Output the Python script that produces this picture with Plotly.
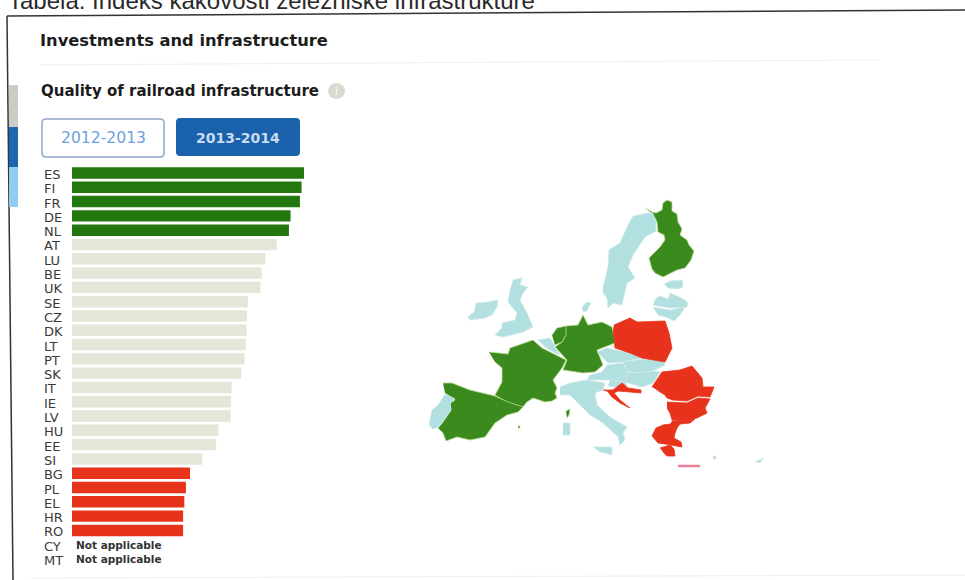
import plotly.graph_objects as go

W, H = 965, 580

# Quality of railroad infrastructure, 2013-2014 score by member state
top_states = ["ES", "FI", "FR", "DE", "NL"]
top_scores = [5.70, 5.64, 5.60, 5.37, 5.33]
mid_states = ["AT", "LU", "BE", "UK", "SE", "CZ", "DK", "LT", "PT", "SK", "IT", "IE", "LV", "HU", "EE", "SI"]
mid_scores = [5.03, 4.75, 4.66, 4.63, 4.32, 4.30, 4.29, 4.27, 4.24, 4.16, 3.92, 3.91, 3.90, 3.60, 3.54, 3.20]
low_states = ["BG", "PL", "EL", "HR", "RO"]
low_scores = [2.90, 2.80, 2.76, 2.73, 2.73]
no_data_states = ["CY", "MT"]
all_states = top_states + mid_states + low_states + no_data_states

GREEN_BAR, GREEN_MAP = "#22780f", "#3a8a1e"
GREY_BAR = "#e4e6d8"
RED = "#e8331c"
PALE = "#b2dfe0"

# Simplified country outlines on the map sheet's own grid (east, south)
finland = [(645,208),(652,212),(656,213),(662,210),(663,203),(667,200),(672,202),(672,211),(677,214),(678,222),(682,229),(680,235),(687,240),(689,245),(694,251),(691,260),(685,268),(677,270),(663,277),(655,273),(652,269),(649,258),(655,252),(660,247),(665,240),(664,235),(658,232),(657,222),(653,214)]
germany = [(566,326),(578,325),(583,315),(588,325),(602,322),(612,327),(614,337),(615,343),(597,350),(602,362),(603,365),(595,372),(583,373),(563,370),(567,360),(555,347),(562,342),(566,335)]
netherlands = [(552,335),(557,328),(566,326),(566,335),(562,342),(555,345)]
france = [(489,352),(508,354),(510,348),(533,340),(542,348),(557,355),(566,360),(562,368),(553,380),(557,388),(555,393),(557,398),(552,401),(545,402),(533,398),(527,402),(522,408),(510,404),(495,395),(502,382),(502,368),(495,362)]
corsica = [(566,411),(570,409),(569,415),(567,418)]
spain = [(443,383),(452,383),(470,390),(495,396),(508,402),(523,407),(518,412),(507,415),(495,423),(490,430),(485,437),(470,440),(457,437),(446,441),(443,433),(438,428),(443,422),(451,410),(450,403),(455,400),(445,393)]
mallorca = [(518,426),(520,426),(520,428),(518,428)]

sweden = [(653,213),(648,213),(633,216),(627,227),(620,243),(609,250),(608,267),(603,287),(603,293),(607,298),(608,308),(613,303),(622,305),(625,290),(627,283),(635,278),(628,267),(633,255),(645,237),(656,231),(656,222)]
denmark = [(582,307),(587,302),(591,303),(587,311),(583,312)]
estonia = [(664,284),(670,281),(682,280),(683,287),(678,289),(668,288)]
latvia = [(656,298),(660,296),(668,299),(670,293),(677,296),(685,300),(688,303),(687,307),(670,308),(653,305)]
lithuania = [(653,307),(670,310),(685,307),(680,315),(674,321),(668,318),(658,315)]
belgium = [(538,340),(550,338),(553,343),(560,355),(555,353),(545,347)]
portugal = [(445,394),(455,399),(450,404),(451,410),(443,421),(438,427),(433,429),(429,425),(432,410),(438,405)]
ireland = [(476,303),(488,302),(498,300),(497,307),(492,315),(485,318),(470,320),(468,317),(474,312)]
britain = [(513,280),(522,278),(520,285),(528,287),(523,293),(520,300),(527,313),(533,327),(523,332),(503,337),(495,335),(502,328),(502,323),(515,320),(517,313),(508,302),(510,290)]
czechia = [(597,352),(607,348),(630,353),(642,358),(623,362),(608,363)]
austria = [(602,372),(607,365),(623,363),(628,372),(625,382),(610,380),(587,380),(590,375)]
slovakia = [(623,362),(642,359),(663,361),(665,365),(653,371),(633,373),(628,371)]
hungary = [(628,372),(633,373),(653,371),(660,372),(653,383),(642,387),(625,382)]
slovenia = [(610,380),(625,382),(627,385),(617,387),(608,386)]
italy = [(560,387),(570,383),(587,380),(605,383),(603,390),(595,393),(597,405),(610,417),(627,427),(623,433),(625,440),(620,445),(618,437),(603,423),(590,415),(580,405),(570,395),(560,395)]
sicily = [(593,447),(612,447),(612,455),(600,452)]
sardinia = [(563,423),(570,423),(570,435),(563,435)]
cyprus = [(755,462),(763,458),(760,463)]

poland = [(614,325),(630,318),(637,322),(665,321),(669,333),(672,348),(665,362),(652,360),(642,358),(630,353),(615,348),(613,330)]
romania = [(652,387),(662,372),(680,370),(692,366),(702,378),(703,387),(714,387),(710,397),(698,396),(687,401),(673,400),(667,398),(665,395),(657,390)]
bulgaria = [(667,402),(687,403),(698,398),(710,399),(705,408),(707,413),(697,418),(687,420),(672,420),(670,413),(667,408)]
greece = [(672,421),(695,419),(690,423),(680,424),(677,428),(675,433),(674,438),(681,442),(682,447),(672,445),(665,444),(658,443),(652,436),(656,428),(663,425),(670,424)]
peloponnese = [(660,448),(670,445),(674,449),(675,456),(667,456),(663,452)]
croatia = [(603,390),(613,390),(622,383),(628,388),(641,390),(641,393),(630,392),(618,391),(614,393),(620,400),(630,408),(620,403),(612,397),(608,392)]
crete = [(678,465),(700,465),(700,467),(678,467)]
rhodes = [(713,456),(716,456),(716,459),(713,459)]

map_groups = [
    ("Top five", GREEN_MAP, "#b9d98f", [finland, germany, netherlands, france, corsica, spain, mallorca]),
    ("Middle", PALE, "#cfeaea", [sweden, denmark, estonia, latvia, lithuania, belgium, portugal, ireland, britain,
                                 czechia, austria, slovakia, hungary, slovenia, italy, sicily, sardinia, cyprus]),
    ("Bottom five", RED, RED, [poland, romania, bulgaria, greece, peloponnese, croatia]),
    ("Bottom five", "#e2607a", "#f0b0c0", [crete]),
    ("Islands", "#d4d4d4", "#e4e4e4", [rhodes]),
]


def fx(px):
    return px / W


def fy(py):
    return 1 - py / H


def rounded_box(x0, y0, x1, y1, r):
    return (f"M{fx(x0+r)},{fy(y0)} L{fx(x1-r)},{fy(y0)} Q{fx(x1)},{fy(y0)} {fx(x1)},{fy(y0+r)} "
            f"L{fx(x1)},{fy(y1-r)} Q{fx(x1)},{fy(y1)} {fx(x1-r)},{fy(y1)} "
            f"L{fx(x0+r)},{fy(y1)} Q{fx(x0)},{fy(y1)} {fx(x0)},{fy(y1-r)} "
            f"L{fx(x0)},{fy(y0+r)} Q{fx(x0)},{fy(y0)} {fx(x0+r)},{fy(y0)} Z")


fig = go.Figure()

# Bars, one trace per performance band
for states, scores, colour, label in [
    (top_states, top_scores, GREEN_BAR, "Top five"),
    (mid_states, mid_scores, GREY_BAR, "Middle"),
    (low_states, low_scores, RED, "Bottom five"),
]:
    fig.add_trace(go.Bar(x=scores, y=states, orientation="h", marker=dict(color=colour, line_width=0),
                         width=0.8, name=label, showlegend=False, xaxis="x", yaxis="y"))

# Map polygons, one trace per country
for label, fill, edge, shapes_ in map_groups:
    for outline in shapes_:
        fig.add_trace(go.Scatter(x=[p[0] for p in outline], y=[p[1] for p in outline], mode="lines",
                                 fill="toself", fillcolor=fill, line=dict(color=edge, width=0.8),
                                 name=label, showlegend=False, hoverinfo="name", xaxis="x2", yaxis="y2"))

annotations = []


def text(px, py, s, size, colour, family="DejaVu Sans", anchor="left"):
    annotations.append(dict(xref="paper", yref="paper", x=fx(px), y=fy(py), text=s, showarrow=False,
                            xanchor=anchor, yanchor="middle", font=dict(family=family, size=size, color=colour),
                            borderpad=0))


text(7, 1, "Tabela: Indeks kakovosti železniške infrastrukture", 24, "#2a2a2a", "Liberation Sans")
text(39, 41, "<b>Investments and infrastructure</b>", 16.3, "#1c1c1c")
text(40, 91, "<b>Quality of railroad infrastructure</b>", 15, "#1c1c1c")
text(103, 138, "2012-2013", 15.6, "#6f9fe0", anchor="center")
text(238, 138, "<b>2013-2014</b>", 14, "#c9dcf0", anchor="center")
text(336, 91, "i", 10, "#ffffff", anchor="center")

# Category labels are left aligned, so they sit beside the axis as text
for code in all_states:
    annotations.append(dict(xref="paper", yref="y", x=fx(42), y=code, yshift=-1.5, text=code, showarrow=False,
                            xanchor="left", yanchor="middle",
                            font=dict(family="DejaVu Sans", size=13, color="#3a3a3a")))
for code in no_data_states:
    annotations.append(dict(xref="paper", yref="y", x=fx(74), y=code, text="<b>Not applicable</b>", showarrow=False,
                            xanchor="left", yanchor="middle",
                            font=dict(family="DejaVu Sans", size=10.5, color="#333333")))

shapes = [
    dict(type="line", xref="paper", yref="paper", x0=fx(7), y0=fy(16), x1=fx(965), y1=fy(10),
         line=dict(color="#333333", width=1.5)),
    dict(type="line", xref="paper", yref="paper", x0=fx(7), y0=fy(16), x1=fx(13), y1=fy(580),
         line=dict(color="#333333", width=1.5)),
    dict(type="line", xref="paper", yref="paper", x0=fx(40), y0=fy(65), x1=fx(880), y1=fy(60),
         line=dict(color="#eeeeee", width=1)),
    dict(type="line", xref="paper", yref="paper", x0=fx(30), y0=fy(578), x1=fx(965), y1=fy(575),
         line=dict(color="#eeeeee", width=1)),
    dict(type="rect", xref="paper", yref="paper", x0=fx(9), y0=fy(85), x1=fx(18), y1=fy(127),
         fillcolor="#c9cdc6", line_width=0),
    dict(type="rect", xref="paper", yref="paper", x0=fx(9), y0=fy(127), x1=fx(18), y1=fy(167),
         fillcolor="#1d66b0", line_width=0),
    dict(type="rect", xref="paper", yref="paper", x0=fx(9), y0=fy(167), x1=fx(18), y1=fy(207),
         fillcolor="#8fcdf2", line_width=0),
    dict(type="path", xref="paper", yref="paper", path=rounded_box(42, 119, 164, 157, 4),
         fillcolor="#ffffff", line=dict(color="#8ea6c8", width=1.5)),
    dict(type="path", xref="paper", yref="paper", path=rounded_box(176, 118, 300, 156, 4),
         fillcolor="#1b62ad", line_width=0),
    dict(type="circle", xref="paper", yref="paper", x0=fx(328), y0=fy(83), x1=fx(345), y1=fy(99),
         fillcolor="#d9dbcf", line_width=0),
]

bar_left, bar_right = 72, 72 + 6 * 40.7
row_top, row_bottom = 165.85, 566.15

fig.update_layout(
    width=W, height=H, autosize=False, margin=dict(l=0, r=0, t=0, b=0),
    paper_bgcolor="#ffffff", plot_bgcolor="rgba(0,0,0,0)", showlegend=False, bargap=0.2,
    xaxis=dict(domain=[fx(bar_left), fx(bar_right)], range=[0, 6], visible=False, fixedrange=True),
    yaxis=dict(domain=[fy(row_bottom), fy(row_top)], type="category", categoryorder="array",
               categoryarray=all_states, range=[27.5, -0.5], visible=False, fixedrange=True, anchor="x"),
    xaxis2=dict(domain=[fx(420), fx(780)], range=[420, 780], visible=False, fixedrange=True, anchor="y2"),
    yaxis2=dict(domain=[fy(480), fy(190)], range=[480, 190], visible=False, fixedrange=True, anchor="x2"),
    annotations=annotations, shapes=shapes,
)

fig.write_html("out.html", config={"displayModeBar": False})
